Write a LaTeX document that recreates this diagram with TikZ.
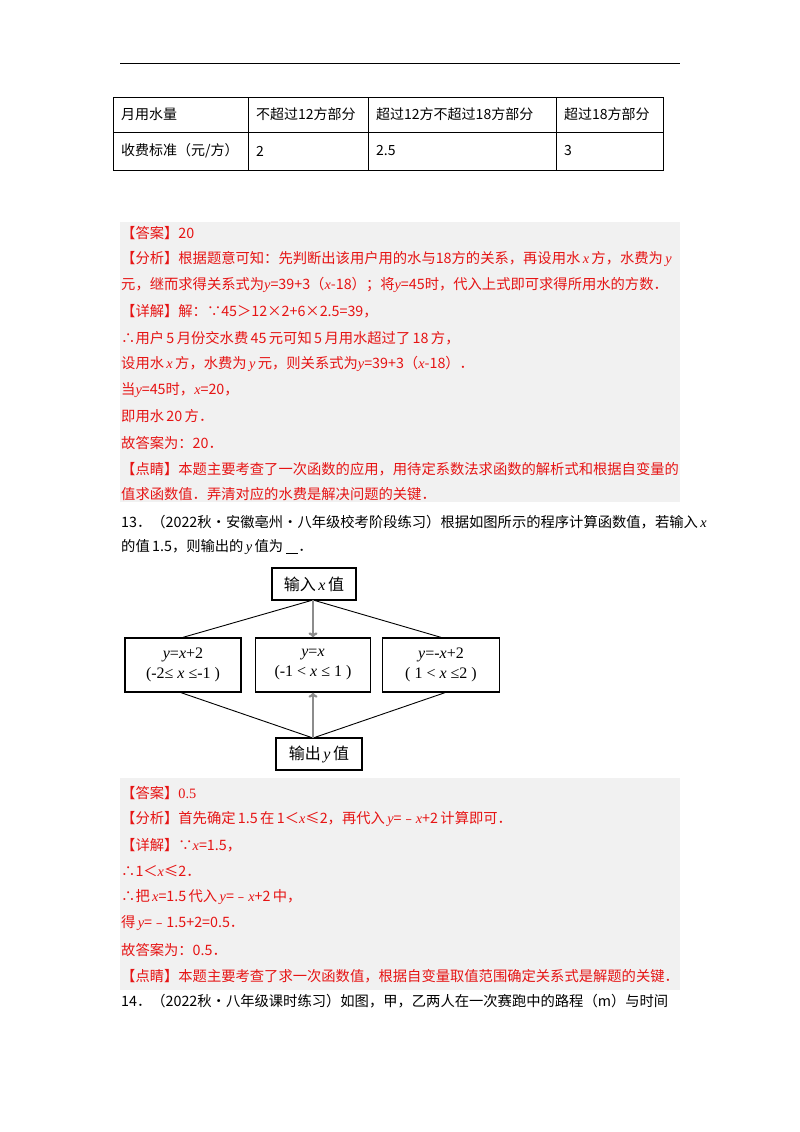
\documentclass[tikz,border=0pt]{standalone}
\usetikzlibrary{arrows.meta}
\usepackage{fontspec}
\setmainfont{Noto Sans CJK SC}
\newfontfamily\tms{Liberation Serif}
\newcommand{\vv}[1]{{\tms\itshape #1}}
\definecolor{ans}{RGB}{230,20,20}
\definecolor{bgg}{RGB}{241,241,241}
\begin{document}
\begin{tikzpicture}[x=1pt,y=-1pt,
  ln/.style={anchor=west,inner sep=0pt,font=\fontsize{14.3}{16}\selectfont},
  rl/.style={ln,text=ans},
  tc/.style={anchor=west,inner sep=0pt,font=\fontsize{14}{16}\selectfont},
  fb/.style={draw,line width=1.3pt,inner sep=0pt,font=\fontsize{16}{20}\selectfont,align=center},
  gar/.style={draw=gray!90,line width=2.2pt,-{To[length=5pt,width=9pt]}}]
\useasboundingbox (0,0) rectangle (800,1132);
\fill[white] (0,0) rectangle (800,1132);
\draw[line width=0.8pt] (120,63) -- (680,63);
% table
\draw[line width=0.6pt] (113,97) rectangle (663,170);
\draw[line width=0.6pt] (113,132) -- (663,132);
\foreach \xx in {248,368,556} \draw[line width=0.6pt] (\xx,97) -- (\xx,170);
\node[tc] (t1) at (121,114) {月用水量};
\node[tc] (t2) at (256,114) {不超过12方部分};
\node[tc] (t3) at (376,114) {超过12方不超过18方部分};
\node[tc] (t4) at (564,114) {超过18方部分};
\node[tc] (t5) at (121,151) {收费标准（元/方）};
\node[tc] (t6) at (256,151) {2};
\node[tc] (t7) at (376,151) {2.5};
\node[tc] (t8) at (564,151) {3};
% block 1
\fill[bgg] (120,222) rectangle (680,502);
\node[rl] (a1) at (121,233) {【答案】20};
\node[rl] (a2) at (121,259) {【分析】根据题意可知：先判断出该用户用的水与18方的关系，再设用水\,\vv{x}\,方，水费为\,\vv{y}};
\node[rl] (a3) at (121,285) {元，继而求得关系式为\vv{y}=39+3（\vv{x}-18）；将\vv{y}=45时，代入上式即可求得所用水的方数．};
\node[rl] (a4) at (121,311) {【详解】解：∵45＞12×2+6×2.5=39，};
\node[rl] (a5) at (121,338) {∴用户\,5\,月份交水费\,45\,元可知\,5\,月用水超过了\,18\,方，};
\node[rl] (a6) at (121,364) {设用水\,\vv{x}\,方，水费为\,\vv{y}\,元，则关系式为\vv{y}=39+3（\vv{x}-18）．};
\node[rl] (a7) at (121,390) {当\vv{y}=45时，\vv{x}=20，};
\node[rl] (a8) at (121,416) {即用水\,20\,方．};
\node[rl] (a9) at (121,443) {故答案为：20．};
\node[rl] (a10) at (121,469) {【点睛】本题主要考查了一次函数的应用，用待定系数法求函数的解析式和根据自变量的};
\node[rl] (a11) at (121,494) {值求函数值．弄清对应的水费是解决问题的关键．};
% question 13
\node[ln] (q1) at (121,522) {13．（2022秋·安徽亳州·八年级校考阶段练习）根据如图所示的程序计算函数值，若输入\,\vv{x}};
\node[ln] (q2) at (121,547) {的值\,1.5，则输出的\,\vv{y}\,值为\ \underline{\hspace{12pt}}．};
% flowchart
\node[fb,minimum width=84pt,minimum height=32pt] (in) at (314,584) {输入\,\vv{x}\,值};
\node[fb,minimum width=116pt,minimum height=54pt] (L) at (183,665) {\vv{y}{\tms=}\vv{x}{\tms+2}\\{\tms(-2≤ \vv{x} ≤-1 )}};
\node[fb,minimum width=115pt,minimum height=54pt] (M) at (313,665) {\vv{y}{\tms=}\vv{x}\\{\tms(-1 <\ \vv{x} ≤ 1 )}};
\node[fb,minimum width=117pt,minimum height=54pt] (R) at (441,665) {\vv{y}{\tms=-}\vv{x}{\tms+2}\\{\tms( 1 <\ \vv{x} ≤2 )}};
\node[fb,minimum width=86pt,minimum height=32pt] (out) at (319,754) {输出\,\vv{y}\,值};
\coordinate (tb) at (313,600);
\coordinate (bt) at (313,738);
\draw[line width=0.9pt] (tb) -- (L.north);
\draw[line width=0.9pt] (tb) -- (R.north);
\draw[gar] (tb) -- (M.north);
\draw[line width=0.9pt] ([xshift=-2pt]L.south) -- (bt);
\draw[line width=0.9pt] ([xshift=4pt]R.south) -- (bt);
\draw[gar] (bt) -- (M.south);
% block 2
\fill[bgg] (120,778) rectangle (680,990);
\node[rl] (b1) at (121,793) {【答案】{\tms 0.5}};
\node[rl] (b2) at (121,819) {【分析】首先确定\,1.5\,在\,1＜\vv{x}≤2，再代入\,\vv{y}=﹣\vv{x}+2\,计算即可．};
\node[rl] (b3) at (121,845) {【详解】∵\vv{x}=1.5，};
\node[rl] (b4) at (121,871) {∴1＜\vv{x}≤2．};
\node[rl] (b5) at (121,897) {∴把\,\vv{x}=1.5\,代入\,\vv{y}=﹣\vv{x}+2\,中，};
\node[rl] (b6) at (121,923) {得\,\vv{y}=﹣1.5+2=0.5．};
\node[rl] (b7) at (121,950) {故答案为：0.5．};
\node[rl] (b8) at (121,976) {【点睛】本题主要考查了求一次函数值，根据自变量取值范围确定关系式是解题的关键．};
\node[ln] (q3) at (121,1001) {14．（2022秋·八年级课时练习）如图，甲，乙两人在一次赛跑中的路程（m）与时间};
\end{tikzpicture}
\end{document}
